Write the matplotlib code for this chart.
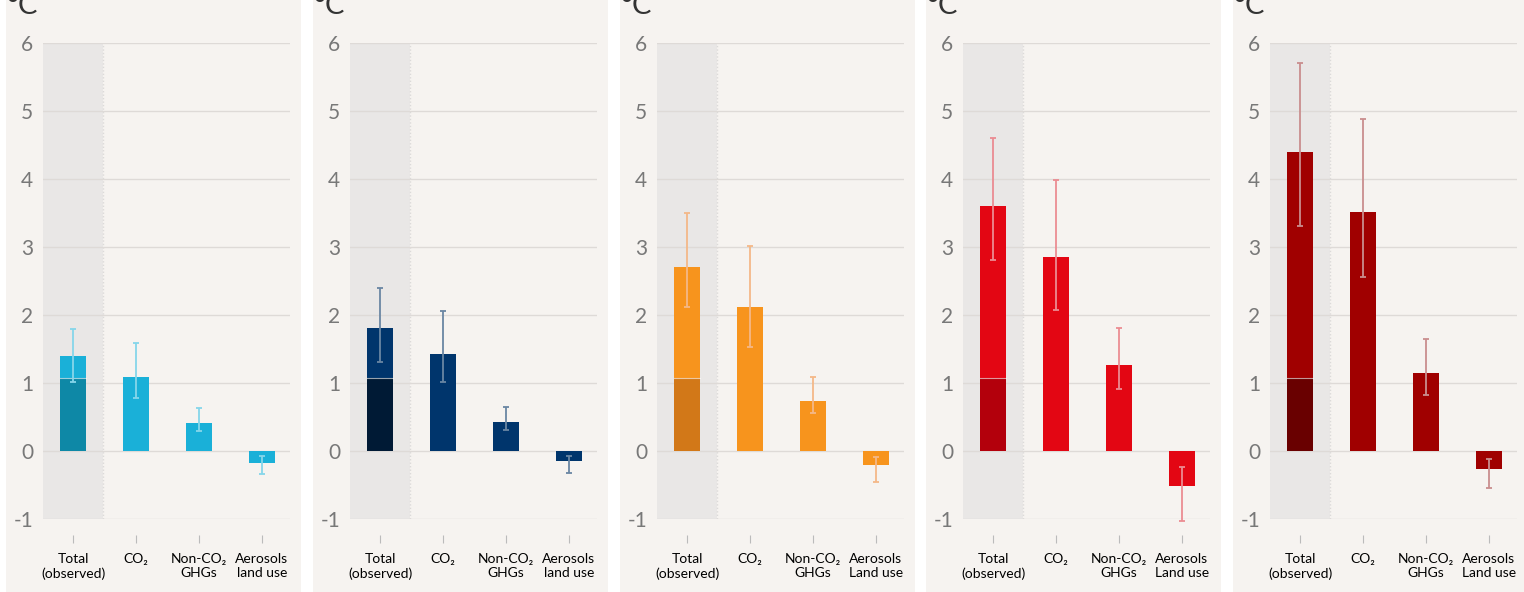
import matplotlib
matplotlib.use("Agg")
import matplotlib.pyplot as plt
from matplotlib.patches import Rectangle

plt.rcParams['font.family'] = ['Lato', 'DejaVu Sans']

categories = ['Total\n(observed)', 'CO\u2082', 'Non-CO\u2082\nGHGs', 'Aerosols\nland use']
categories_cap = ['Total\n(observed)', 'CO\u2082', 'Non-CO\u2082\nGHGs', 'Aerosols\nLand use']
observed_part = 1.07

# warming per scenario: bar value, low and high end of the range
values_1 = [1.40, 1.09, 0.41, -0.17]
low_1 = [1.01, 0.78, 0.29, -0.34]
high_1 = [1.79, 1.59, 0.63, -0.08]

values_2 = [1.81, 1.43, 0.43, -0.15]
low_2 = [1.31, 1.01, 0.31, -0.32]
high_2 = [2.40, 2.06, 0.65, -0.07]

values_3 = [2.70, 2.12, 0.74, -0.21]
low_3 = [2.12, 1.53, 0.56, -0.46]
high_3 = [3.50, 3.01, 1.09, -0.09]

values_4 = [3.60, 2.85, 1.26, -0.51]
low_4 = [2.81, 2.07, 0.91, -1.03]
high_4 = [4.60, 3.99, 1.81, -0.23]

values_5 = [4.40, 3.51, 1.15, -0.27]
low_5 = [3.31, 2.56, 0.82, -0.55]
high_5 = [5.70, 4.88, 1.65, -0.12]

panels = [
    (values_1, low_1, high_1, '#1ab0d8', '#0e88a6', '#86d6ea', categories),
    (values_2, low_2, high_2, '#00356c', '#001a35', '#6a86a3', categories),
    (values_3, low_3, high_3, '#f7941d', '#d27818', '#f4b888', categories_cap),
    (values_4, low_4, high_4, '#e30613', '#b3000c', '#eb8c92', categories_cap),
    (values_5, low_5, high_5, '#a00000', '#690000', '#c98e8e', categories_cap),
]

W, H = 1524, 592
fig = plt.figure(figsize=(W / 100, H / 100), dpi=100)
fig.patch.set_facecolor('white')

grid_lefts = [43, 350, 657, 963, 1270]
ax_w, ax_top, ax_bot = 247, 43, 519

for i, (vals, lo, hi, col, dark, ecol, labels) in enumerate(panels):
    gl = grid_lefts[i]
    # panel background
    fig.add_artist(Rectangle(((gl - 37) / W, 0), 295 / W, 1,
                             transform=fig.transFigure, facecolor='#f6f3f0',
                             edgecolor='none', zorder=-5))
    ax = fig.add_axes([gl / W, (H - ax_bot) / H, ax_w / W, (ax_bot - ax_top) / H])
    ax.set_facecolor('none')
    ax.set_xlim(-0.48, 3.45)
    ax.set_ylim(-1, 6)

    ax.axvspan(-0.48, 0.48, color='#e9e7e6', zorder=0.3, lw=0)
    ax.axvline(0.48, color='#dcdad9', lw=1, ls=(0, (1, 1.5)), zorder=0.4)

    x = range(len(vals))
    ax.bar(x, vals, width=0.41, color=col, zorder=2)
    # observed share of the total bar
    ax.bar(0, observed_part, width=0.41, color=dark, zorder=2.1)
    ax.plot([-0.205, 0.205], [observed_part, observed_part], color='white',
            lw=0.8, alpha=0.6, zorder=2.2)

    yerr = [[v - l for v, l in zip(vals, lo)], [h - v for v, h in zip(vals, hi)]]
    eb = ax.errorbar(x, vals, yerr=yerr, fmt='none', ecolor=ecol, elinewidth=1.3,
                     capsize=2.5, capthick=1.3, zorder=3)
    for art in eb.lines[1] + eb.lines[2]:
        art.set_clip_on(False)

    ax.set_axisbelow(True)
    ax.yaxis.grid(True, color='#dedad7', lw=1)
    ax.set_yticks(range(-1, 7))
    ax.set_yticklabels([str(t) for t in range(-1, 7)])
    ax.tick_params(axis='y', length=0, pad=7, labelsize=15, labelcolor='#787878')

    ax.set_xticks(list(x))
    ax.set_xticklabels(labels, fontsize=12.8, color='#555555', linespacing=0.92)
    ax.spines['bottom'].set_position(('outward', 11.5))
    ax.tick_params(axis='x', length=6, width=0.8, color='#bbbbbb', pad=7)
    for s in ax.spines.values():
        s.set_visible(False)

    fig.text((gl - 5) / W, (H - 14) / H, '°C', ha='right', va='baseline',
             fontsize=21, color='#333333')

fig.savefig('out.png', dpi=100, facecolor='white')
